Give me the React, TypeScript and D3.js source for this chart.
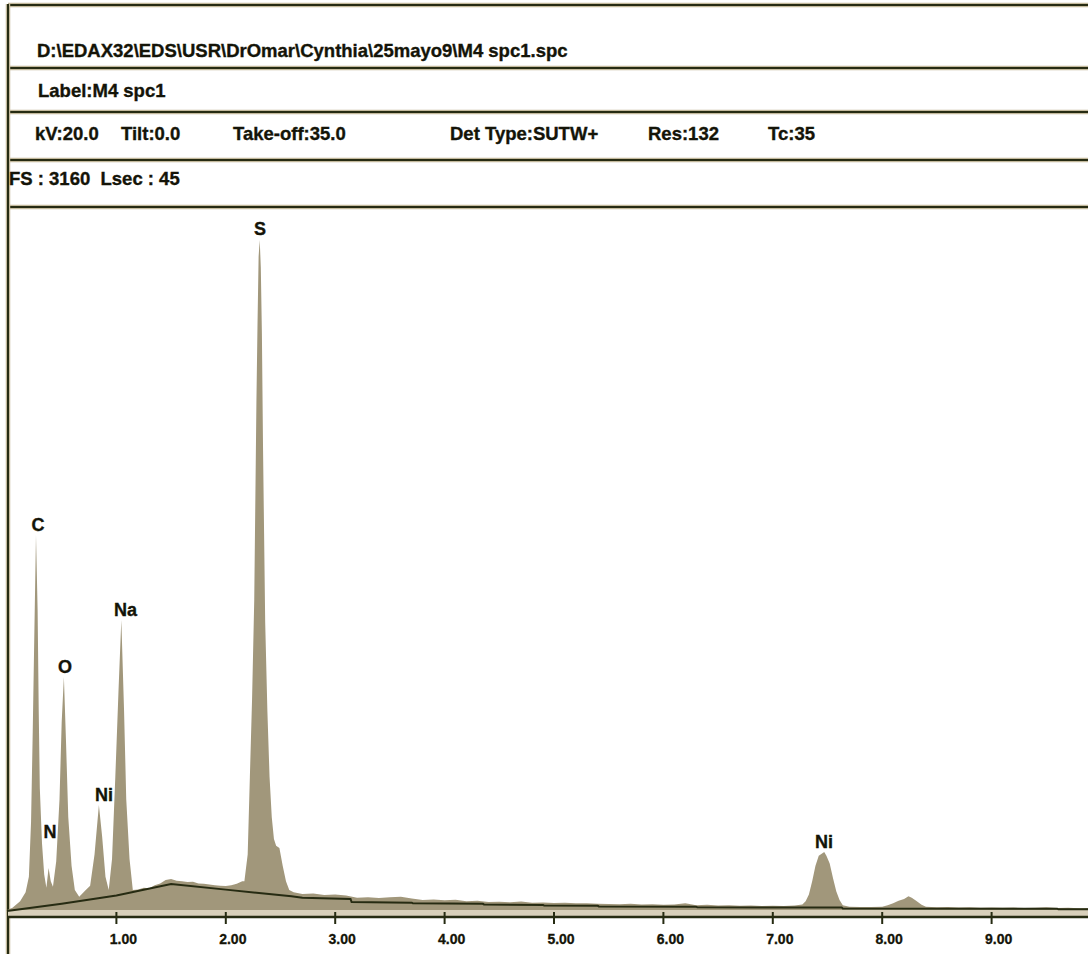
import React from 'react';
import * as d3 from 'd3';

// header info rows
const filePath = 'D:\\EDAX32\\EDS\\USR\\DrOmar\\Cynthia\\25mayo9\\M4 spc1.spc';
const labelText = 'Label:M4 spc1';
const acqFields = ['kV:20.0', 'Tilt:0.0', 'Take-off:35.0', 'Det Type:SUTW+', 'Res:132', 'Tc:35'];
const acqX = [35, 121, 233, 450, 648, 768];
const fsText = 'FS : 3160  Lsec : 45';

const xTicks = [1, 2, 3, 4, 5, 6, 7, 8, 9];

// spectrum: [keV, counts]
const spectrum: [number, number][] = [
  [0.0, 0], [0.05, 10], [0.12, 40], [0.17, 80], [0.2, 150], [0.22, 400], [0.235, 800],
  [0.25, 1250], [0.265, 1693], [0.28, 1350], [0.29, 900], [0.3, 550], [0.32, 300],
  [0.34, 160], [0.36, 100], [0.38, 190], [0.4, 130], [0.42, 105], [0.45, 220],
  [0.48, 500], [0.5, 850], [0.52, 1052], [0.54, 750], [0.56, 420], [0.59, 200],
  [0.62, 90], [0.66, 60], [0.72, 90], [0.76, 110], [0.8, 250], [0.84, 474], [0.87, 330],
  [0.9, 150], [0.93, 90], [0.96, 230], [0.99, 600], [1.02, 1000], [1.045, 1309],
  [1.07, 900], [1.09, 500], [1.12, 230], [1.15, 90],
  [1.2, 92], [1.25, 100], [1.3, 98], [1.35, 112], [1.4, 120], [1.45, 135], [1.5, 140],
  [1.55, 132], [1.6, 130], [1.65, 126], [1.7, 128], [1.75, 120], [1.8, 118], [1.85, 115],
  [1.9, 112], [1.95, 110], [2.0, 108], [2.05, 112], [2.1, 118], [2.15, 130],
  [2.17, 130], [2.2, 250], [2.22, 600], [2.24, 950], [2.26, 1400], [2.27, 1850],
  [2.28, 2300], [2.29, 2650], [2.3, 2950], [2.31, 3025], [2.32, 2900], [2.33, 2600],
  [2.34, 2100], [2.35, 1700], [2.36, 1300], [2.38, 900], [2.4, 600], [2.42, 420],
  [2.44, 320], [2.46, 290], [2.49, 280], [2.52, 200], [2.55, 130], [2.58, 90],
  [2.62, 80], [2.7, 72], [2.8, 75], [2.9, 68], [3.0, 70], [3.1, 66], [3.2, 55],
  [3.3, 58], [3.4, 54], [3.5, 57], [3.6, 60], [3.7, 52], [3.8, 45], [3.9, 47],
  [4.0, 44], [4.1, 46], [4.2, 40], [4.3, 42], [4.4, 36], [4.5, 37], [4.6, 35],
  [4.7, 38], [4.8, 33], [4.9, 34], [5.0, 32], [5.1, 33], [5.2, 30], [5.3, 31],
  [5.4, 28], [5.5, 27], [5.6, 26], [5.7, 28], [5.8, 25], [5.9, 26], [6.0, 24],
  [6.1, 25], [6.2, 30], [6.3, 22], [6.4, 24], [6.5, 20], [6.6, 21], [6.7, 19],
  [6.8, 20], [6.9, 18], [7.0, 19], [7.1, 18], [7.2, 20], [7.27, 25],
  [7.3, 40], [7.33, 70], [7.36, 130], [7.39, 200], [7.42, 245], [7.45, 255],
  [7.47, 262], [7.49, 245], [7.52, 210], [7.55, 145], [7.58, 85], [7.61, 45], [7.64, 22],
  [7.7, 15], [7.8, 14], [7.9, 13], [8.0, 15], [8.05, 22], [8.1, 30], [8.15, 42],
  [8.2, 50], [8.24, 62], [8.27, 55], [8.31, 42], [8.36, 24], [8.4, 15], [8.5, 12],
  [8.6, 13], [8.7, 11], [8.8, 12], [8.9, 10], [9.0, 11], [9.1, 10], [9.2, 11],
  [9.3, 9], [9.4, 10], [9.5, 12], [9.6, 9], [9.7, 10], [9.8, 8], [9.9, 9], [10.0, 8],
];

// fitted background line vertices: [keV, counts]
const background: [number, number][] = [
  [0, -5], [0.5, 28], [1.0, 65], [1.5, 117], [2.0, 92], [2.6, 62], [2.7, 55],
  [3.14, 50], [3.15, 36], [3.7, 33], [3.71, 30], [4.35, 28], [4.36, 25], [4.9, 23],
  [4.91, 20], [5.4, 19], [5.41, 16], [6.3, 15], [6.31, 12], [7.63, 11], [7.64, 7],
  [9.6, 6], [9.61, 3], [10, 3],
];

// peak labels: element, keV of the label, counts level of the label baseline
const peakNames = ['C', 'N', 'O', 'Ni', 'Na', 'S', 'Ni'];
const peakKeV = [0.283, 0.393, 0.53, 0.887, 1.083, 2.313, 7.468];
const labelAt = [1710, 325, 1070, 490, 1325, 3045, 282];

const W = 1088;
const H = 954;
const base = 910;
const axisY = 917;
const ink = '#262b12';
const halo = '#c3b99c';
const fillCol = '#a1977b';
const txt = '#141408';
const bold = {
  fontFamily: 'Arial, "Liberation Sans", Helvetica, sans-serif',
  fontWeight: 700,
};

export default function App() {
  const x = d3.scaleLinear().domain([0, 10]).range([7, 7 + 1094]);
  const y = d3.scaleLinear().domain([0, 3160]).range([base, 210]);

  const area = d3.area<[number, number]>()
    .x(d => x(d[0]))
    .y0(base)
    .y1(d => y(d[1]));
  const line = d3.line<[number, number]>()
    .x(d => x(d[0]))
    .y(d => y(d[1]));

  const hLines = [5, 68, 112, 160, 207];

  return (
    <svg width={W} height={H} style={{ position: 'absolute', left: 0, top: 0, background: '#fff' }}>
      {hLines.map(v => (
        <g key={v}>
          <line x1={8} x2={W} y1={v} y2={v} stroke={halo} strokeWidth={4.5} />
          <line x1={8} x2={W} y1={v} y2={v} stroke={ink} strokeWidth={2} />
        </g>
      ))}
      <line x1={8} x2={8} y1={4} y2={H} stroke={halo} strokeWidth={4.5} />
      <line x1={8} x2={8} y1={4} y2={H} stroke={ink} strokeWidth={2} />

      <g fill={txt} stroke={txt} strokeWidth={0.35} fontSize={18.5} style={bold}>
        <text x={37} y={57}>{filePath}</text>
        <text x={38} y={97}>{labelText}</text>
        {acqFields.map((t, i) => (
          <text key={t} x={acqX[i]} y={140}>{t}</text>
        ))}
        <text x={9} y={185} xmlSpace="preserve">{fsText}</text>
      </g>

      <rect x={8} y={base} width={W} height={axisY - base} fill="#d8cfba" />
      <path d={area(spectrum) ?? ''} fill={fillCol} />
      <path d={line(background) ?? ''} fill="none" stroke={ink} strokeWidth={2} />
      <line x1={8} x2={W} y1={axisY} y2={axisY} stroke={ink} strokeWidth={2.5} />

      {xTicks.map(t => (
        <g key={t}>
          <line x1={x(t)} x2={x(t)} y1={base + 2} y2={axisY + 7} stroke={ink} strokeWidth={2} />
          <text x={x(t) + 7} y={944} fontSize={14} textAnchor="middle" fill={txt}
            stroke={txt} strokeWidth={0.3} style={bold}>
            {t.toFixed(2)}
          </text>
        </g>
      ))}

      {peakNames.map((n, i) => (
        <text key={i} x={x(peakKeV[i])} y={y(labelAt[i])} fontSize={18} textAnchor="middle"
          fill={txt} stroke={txt} strokeWidth={0.35} style={bold}>
          {n}
        </text>
      ))}
    </svg>
  );
}
